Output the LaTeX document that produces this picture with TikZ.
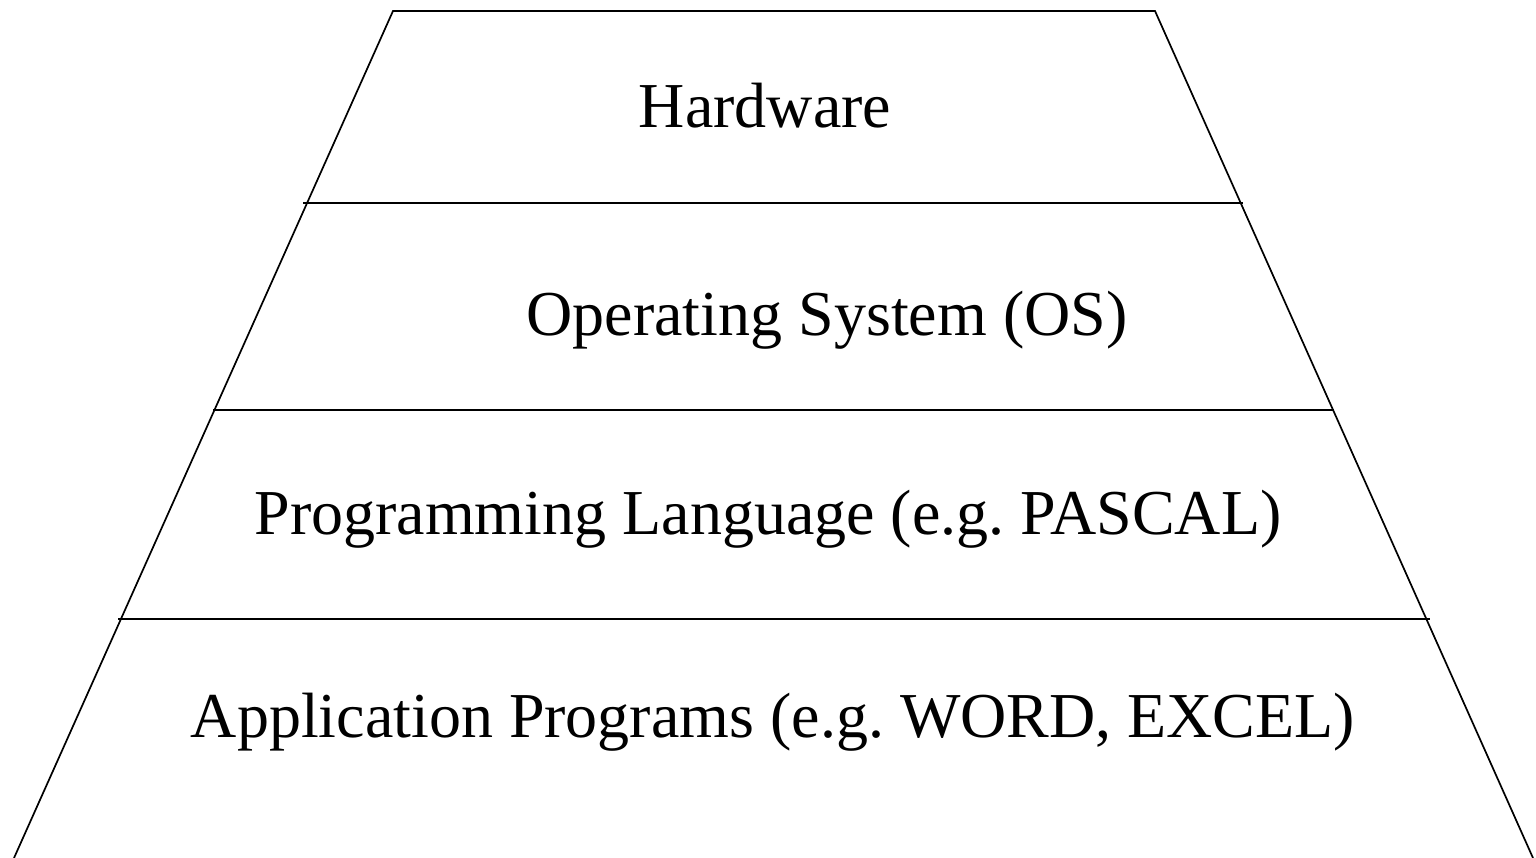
\documentclass[tikz,border=0pt]{standalone}
\usepackage{fontspec}
\setmainfont{Liberation Serif}
\frenchspacing
\begin{document}
\begin{tikzpicture}[x=1pt,y=-1pt,
  edge/.style={line width=1.7pt, line cap=butt},
  layer/.style={anchor=base, inner sep=0pt, font=\fontsize{64}{76}\selectfont}]
\useasboundingbox (0,0) rectangle (1536,858);
% corners of the pyramid outline
\coordinate (tl) at (393,11);
\coordinate (tr) at (1155,11);
\coordinate (bl) at (14,858);
\coordinate (br) at (1533,858);
\draw[edge] (bl) -- (tl) -- (tr) -- (br);
% layer dividers
\coordinate (d1l) at (303,203);  \coordinate (d1r) at (1243,203);
\coordinate (d2l) at (213,410);  \coordinate (d2r) at (1334,410);
\coordinate (d3l) at (118,619);  \coordinate (d3r) at (1430,619);
\draw[edge] (d1l) -- (d1r);
\draw[edge] (d2l) -- (d2r);
\draw[edge] (d3l) -- (d3r);
% layer labels
\node[layer] (hw) at (765,128) {Hardware};
\node[layer] (os) at (827,336) {Operating System (OS)};
\node[layer] (pl) at (768,534) {Programming Language (e.g. PASCAL)};
\node[layer] (ap) at (773,737) {Application Programs (e.g. WORD, EXCEL)};
\end{tikzpicture}
\end{document}
